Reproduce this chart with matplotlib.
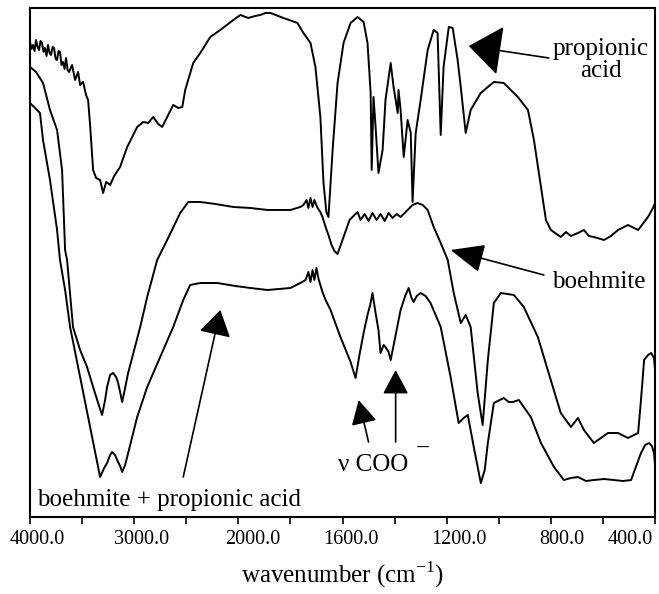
import numpy as np
import matplotlib
matplotlib.use("Agg")
import matplotlib.pyplot as plt
from matplotlib.transforms import ScaledTranslation

plt.rcParams["font.family"] = ["Liberation Serif", "DejaVu Serif"]
plt.rcParams["mathtext.fontset"] = "custom"
plt.rcParams["mathtext.rm"] = "Liberation Serif"

# ---- spectra (wavenumber cm-1, transmittance a.u.) ----
prop_wn = [4000, 3985, 3971, 3956, 3942, 3927, 3913, 3899, 3885, 3870, 3856, 3841, 3827, 3812,
           3798, 3783, 3769, 3754, 3740, 3726, 3712, 3697, 3683, 3668, 3654, 3639, 3625,
           3596, 3567, 3538, 3519, 3490, 3462, 3442, 3423, 3394, 3365, 3327, 3298, 3269, 3231,
           3192, 3135, 3067, 2971, 2913, 2865, 2817, 2769, 2731, 2673, 2625, 2577, 2538, 2510,
           2433, 2365, 2269, 2173, 2048, 1992, 1962, 1935, 1915, 1896, 1877, 1827, 1773, 1750,
           1723, 1704, 1685, 1673, 1662, 1654, 1638, 1619, 1596, 1569, 1542, 1519, 1504, 1492,
           1488, 1481, 1473, 1462, 1446, 1435, 1415, 1404, 1388, 1385, 1377, 1365, 1350, 1338,
           1331, 1319, 1300, 1273, 1250, 1235, 1223, 1212, 1192, 1177, 1158, 1146, 1127, 1108,
           1069, 1019, 981, 927, 888, 865, 838, 819, 800, 762, 742, 723, 696, 673, 654, 635,
           596, 569, 542, 504, 465, 427, 408, 400]
prop_t = [475, 468, 472, 466, 477, 470, 467, 476, 474, 465, 469, 461, 472, 464,
          462, 470, 469, 458, 457, 466, 465, 452, 455, 448, 459, 447, 445,
          452, 437, 445, 432, 435, 422, 417, 392, 347, 339, 337, 324, 335, 332,
          341, 350, 370, 390, 395, 394, 400, 393, 390, 402, 412, 409, 410, 427,
          454, 464, 480, 487, 497, 502, 499, 501, 502, 504, 504, 499, 494, 484,
          474, 450, 400, 334, 305, 300, 367, 434, 474, 494, 500, 495, 474, 424,
          347, 420, 390, 344, 367, 417, 454, 430, 404, 427, 407, 360, 397, 384,
          315, 384, 417, 467, 487, 484, 382, 450, 490, 489, 457, 430, 384, 407,
          424, 435, 434, 420, 407, 377, 330, 297, 287, 280, 285, 281, 284, 287, 281, 280,
          277, 281, 287, 292, 287, 300, 309, 314]

boeh_wn = [4000, 3942, 3875, 3808, 3740, 3692, 3663, 3644, 3587, 3519, 3452, 3394, 3346, 3308,
           3279, 3260, 3231, 3202, 3173, 3154, 3135, 3115, 3087, 3058, 3000, 2942, 2875, 2779,
           2683, 2558, 2481, 2365, 2221, 2048, 1954, 1888, 1800, 1762, 1750, 1738, 1731, 1723,
           1715, 1708, 1696, 1685, 1677, 1665, 1654, 1642, 1631, 1619, 1596, 1573, 1554,
           1542, 1531, 1515, 1500, 1485, 1469, 1454, 1438, 1423, 1408, 1392, 1377, 1350, 1331,
           1312, 1292, 1273, 1250, 1223, 1196, 1173, 1146, 1127, 1108, 1081, 1062, 1042, 1019,
           992, 942, 904, 850, 812, 762, 723, 696, 673, 635, 581, 542, 504, 465, 454, 442,
           427, 415, 404, 400]
boeh_t = [450, 445, 434, 407, 387, 347, 267, 257, 190, 167, 150, 130, 114, 102,
          117, 130, 142, 144, 140, 134, 125, 115, 129, 144, 167, 190, 220, 257,
          277, 304, 315, 315, 313, 310, 309, 307, 307, 310, 312, 317, 309, 319,
          310, 317, 309, 305, 300, 290, 282, 272, 266, 263, 280, 297, 302,
          305, 297, 303, 296, 304, 297, 303, 296, 304, 299, 303, 300, 307, 312,
          314, 312, 307, 290, 274, 257, 224, 194, 202, 190, 124, 92, 157, 214,
          224, 222, 210, 180, 147, 104, 90, 99, 87, 74, 84, 84, 79, 84, 117, 157,
          162, 164, 159, 147]

mix_wn = [4000, 3952, 3904, 3875, 3808, 3740, 3712, 3663, 3615, 3519, 3423, 3375, 3327, 3288,
          3260, 3231, 3212, 3183, 3163, 3135, 3115, 3087, 3067, 3019, 2971, 2875, 2750, 2625,
          2529, 2462, 2365, 2202, 2029, 1954, 1888, 1800, 1762, 1742, 1731, 1723, 1715, 1708,
          1700, 1692, 1685, 1677, 1665, 1646, 1608, 1569, 1550, 1535, 1519, 1504, 1492, 1485,
          1473, 1462, 1454, 1442, 1435, 1423, 1415, 1396, 1377, 1358, 1346, 1335, 1327, 1315,
          1300, 1281, 1262, 1223, 1185, 1154, 1135, 1119, 1096, 1069, 1054, 1042, 1019, 981,
          962, 946, 923, 877, 838, 788, 750, 723, 696, 665, 635, 596, 558, 523, 492, 454,
          438, 423, 412, 404, 400]
mix_t = [414, 409, 404, 377, 337, 287, 257, 227, 190, 140, 90, 65, 40, 49,
         54, 62, 65, 62, 57, 51, 45, 52, 60, 80, 100, 130, 160, 190,
         217, 232, 234, 234, 231, 229, 227, 229, 234, 237, 245, 235, 247, 237,
         249, 238, 232, 225, 217, 207, 180, 155, 139, 162, 184, 202, 214, 224,
         204, 187, 164, 172, 170, 165, 157, 182, 207, 222, 229, 219, 215, 221,
         224, 221, 214, 190, 140, 94, 99, 102, 70, 34, 47, 74, 114, 119,
         115, 115, 117, 100, 74, 50, 37, 39, 40, 36, 37, 38, 37, 36, 37, 64,
         72, 74, 71, 64, 52]

major_ticks = [4000, 3000, 2000, 1600, 1200, 800, 400]
minor_ticks = [3500, 2500, 1800, 1400, 1000, 600]
label_shift_px = [7, 7, 14, 8, 12, 11, -25]


# axis is compressed above 2000 cm-1 (old FTIR software style)
def fwd(w):
    w = np.asarray(w, dtype=float)
    return np.where(w >= 2000, (w - 2000) / 1000.0, (w - 2000) / 400.0)


def inv(u):
    u = np.asarray(u, dtype=float)
    return np.where(u >= 0, 2000 + 1000.0 * u, 2000 + 400.0 * u)


fig = plt.figure(figsize=(6.59, 5.94), dpi=100)
ax = fig.add_axes([0.0455, 0.1296, 0.9485, 0.857])
ax.set_xscale("function", functions=(fwd, inv))

for wn, t in [(prop_wn, prop_t), (boeh_wn, boeh_t), (mix_wn, mix_t)]:
    ax.plot(wn, t, color="black", lw=1.4)

ax.set_xlim(4000, 400)
ax.set_ylim(0, 509)
ax.set_yticks([])
ax.set_xticks(major_ticks)
ax.set_xticks(minor_ticks, minor=True)
ax.set_xticklabels([f"{t:.1f}" for t in major_ticks], fontsize=14.5)
ax.tick_params(axis="x", which="both", direction="out", length=5, width=1.2, pad=4)
for s in ax.spines.values():
    s.set_linewidth(1.5)

for lab, dx in zip(ax.get_xticklabels(), label_shift_px):
    lab.set_transform(lab.get_transform() + ScaledTranslation(dx / 100.0, 0, fig.dpi_scale_trans))

ax.set_xlabel("wavenumber (cm$^{-1}$)", fontsize=18, labelpad=8)

# ---- labels and arrows ----
ax.text(608, 457, "propionic\nacid", fontsize=18, ha="center", va="center", linespacing=1.05)
ax.text(615, 235, "boehmite", fontsize=18, ha="center", va="center")
ax.text(3933, 17, "boehmite + propionic acid", fontsize=18, ha="left", va="center")
ax.text(1619, 52, "ν COO", fontsize=18, ha="left", va="center")
ax.text(1319, 68, "−", fontsize=18, ha="left", va="center")


def arrow(tip, tail, hl, hw, ms):
    ax.annotate("", xy=tip, xytext=tail,
                arrowprops=dict(arrowstyle=f"-|>,head_length={hl},head_width={hw}",
                                mutation_scale=ms, color="black", lw=1.2,
                                shrinkA=0, shrinkB=0))


arrow((1115, 471), (808, 459), 1.05, 0.8, 20)
arrow((1185, 267), (827, 242), 1.05, 0.45, 20)
arrow((2173, 207), (2529, 40), 0.8, 0.5, 20)
arrow((1538, 117), (1500, 75), 0.75, 0.4, 20)
arrow((1396, 147), (1396, 75), 0.75, 0.4, 20)

fig.savefig("out.png", dpi=100)
